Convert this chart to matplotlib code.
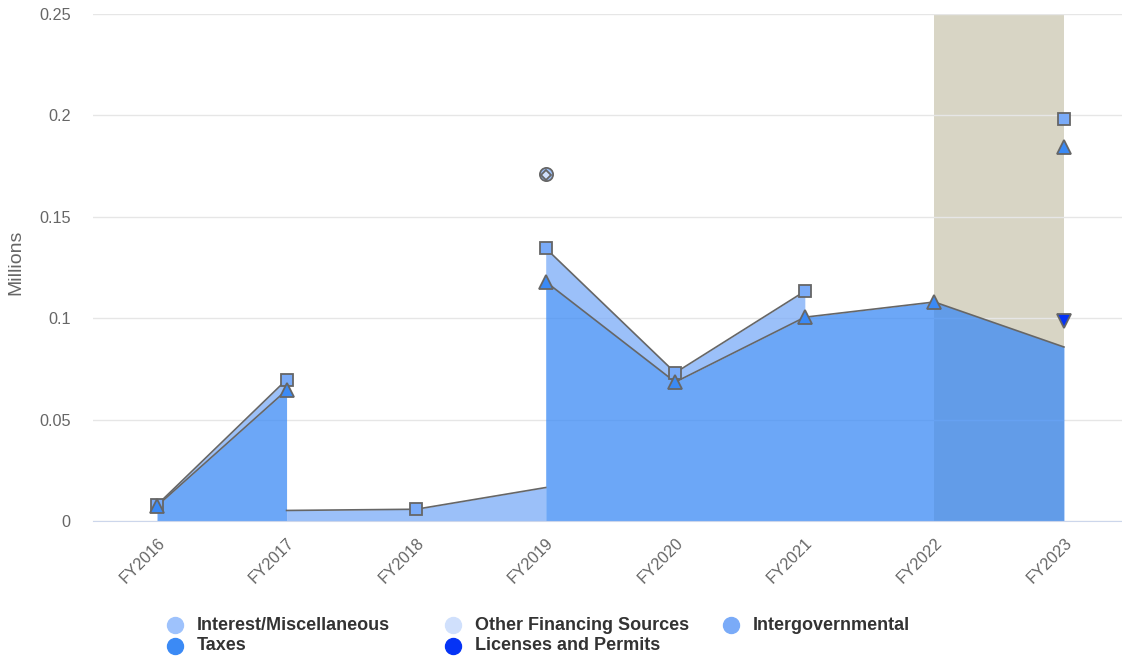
import numpy as np
import matplotlib
matplotlib.use("Agg")
import matplotlib.pyplot as plt
from matplotlib.lines import Line2D

plt.rcParams['font.family'] = ['Liberation Sans', 'DejaVu Sans']

# ---------------- data ----------------
years = ["FY2016", "FY2017", "FY2018", "FY2019", "FY2020", "FY2021", "FY2022", "FY2023"]
nan = np.nan
# stacking order: bottom -> top
licenses = [nan, nan, nan, nan, nan, nan, nan, 0.0986]
taxes = [0.0074, 0.0645, nan, 0.118, 0.0685, 0.1005, 0.108, 0.0858]
intergov = [0.0005, 0.0052, 0.0058, 0.0165, 0.0046, 0.0128, nan, 0.0136]
other_fin = [nan, nan, nan, 0.0360, nan, nan, nan, nan]
interest = [nan, nan, nan, 0.0004, nan, nan, nan, nan]

band_start, band_end = "FY2022", "FY2023"

# name, values, colour, marker, marker size
series = [
    ("Licenses and Permits", licenses, "#0533f5", "v", 9.5),
    ("Taxes", taxes, "#3b8af5", "^", 9.5),
    ("Intergovernmental", intergov, "#7aabf8", "s", 9),
    ("Other Financing Sources", other_fin, "#d0e0fc", "D", 5),
    ("Interest/Miscellaneous", interest, "#9ec2fc", "o", 9.5),
]
legend_order = ["Interest/Miscellaneous", "Other Financing Sources", "Intergovernmental",
                "Taxes", "Licenses and Permits"]

# ---------------- figure ----------------
fig = plt.figure(figsize=(11.22, 6.56), dpi=100)
ax = fig.add_axes([93 / 1122, 1 - 521 / 656, 1 - 93 / 1122, (521 - 14) / 656])
x = np.arange(len(years))

ax.axvspan(years.index(band_start), years.index(band_end), color="#d8d5c5", zorder=0.5, lw=0)

vals = [np.array(s[1], dtype=float) for s in series]
for k, (name, _, color, mk, ms) in enumerate(series):
    v = vals[k]
    lower = vals[:k]
    # area segments (base falls back to 0 where a lower series is missing)
    segs = []
    for i in range(len(x) - 1):
        if np.isnan(v[i]) or np.isnan(v[i + 1]):
            continue
        b0 = b1 = 0.0
        for lv in lower:
            if not np.isnan(lv[i]) and not np.isnan(lv[i + 1]):
                b0 += lv[i]
                b1 += lv[i + 1]
        segs.append((i, b0, b1, b0 + v[i], b1 + v[i + 1]))
    # join touching segments so the fill has no seams
    runs = []
    for i, b0, b1, t0, t1 in segs:
        if runs and runs[-1][0][-1] == x[i] and runs[-1][1][-1] == b0 and runs[-1][2][-1] == t0:
            runs[-1][0].append(x[i + 1]); runs[-1][1].append(b1); runs[-1][2].append(t1)
        else:
            runs.append(([x[i], x[i + 1]], [b0, b1], [t0, t1]))
    for xs, bs, ts in runs:
        ax.fill_between(xs, bs, ts, color=color, alpha=0.75, lw=0, zorder=2)
        ax.plot(xs, ts, color="#666666", lw=1.2, zorder=3)
    # markers at the full stack position
    base = np.zeros(len(x))
    for lv in lower:
        base += np.nan_to_num(lv)
    ax.plot(x, base + v, ls="none", marker=mk, ms=ms, mfc=color, mec="#666666", mew=1.3,
            zorder=5 + legend_order.index(name), clip_on=False)

ax.set_xlim(-0.494, 7.448)
ax.set_ylim(0, 0.25)
ax.set_yticks([0, 0.05, 0.1, 0.15, 0.2, 0.25])
ax.set_yticklabels(["0", "0.05", "0.1", "0.15", "0.2", "0.25"])
ax.set_xticks(x)
ax.set_xticklabels(years, rotation=45, ha="right", rotation_mode="anchor")
ax.tick_params(axis="both", colors="#666666", labelsize=11.7, length=0)
ax.tick_params(axis="y", pad=16)
ax.tick_params(axis="x", pad=10)
ax.grid(axis="y", color="#e6e6e6", lw=1, zorder=0)
ax.set_axisbelow(True)
for sp in ["top", "right", "left"]:
    ax.spines[sp].set_visible(False)
ax.spines["bottom"].set_color("#ccd6eb")
ax.spines["bottom"].set_zorder(10)
ax.set_ylabel("Millions", color="#666666", fontsize=14)
ax.yaxis.set_label_coords(-0.067, 0.51)

# ---------------- legend ----------------
colors = {s[0]: s[2] for s in series}
col_x = [175, 453, 731]
row_y = [625, 646]
for j, name in enumerate(legend_order):
    cx = col_x[j % 3] / 1122
    cy = 1 - row_y[j // 3] / 656
    fig.add_artist(Line2D([cx], [cy], marker="o", ms=11.5, color=colors[name], ls="none",
                          transform=fig.transFigure))
    fig.text(cx + 22 / 1122, cy, name, fontsize=13, fontweight="bold", color="#333333",
             va="center", ha="left")

fig.savefig("out.png", dpi=100)
